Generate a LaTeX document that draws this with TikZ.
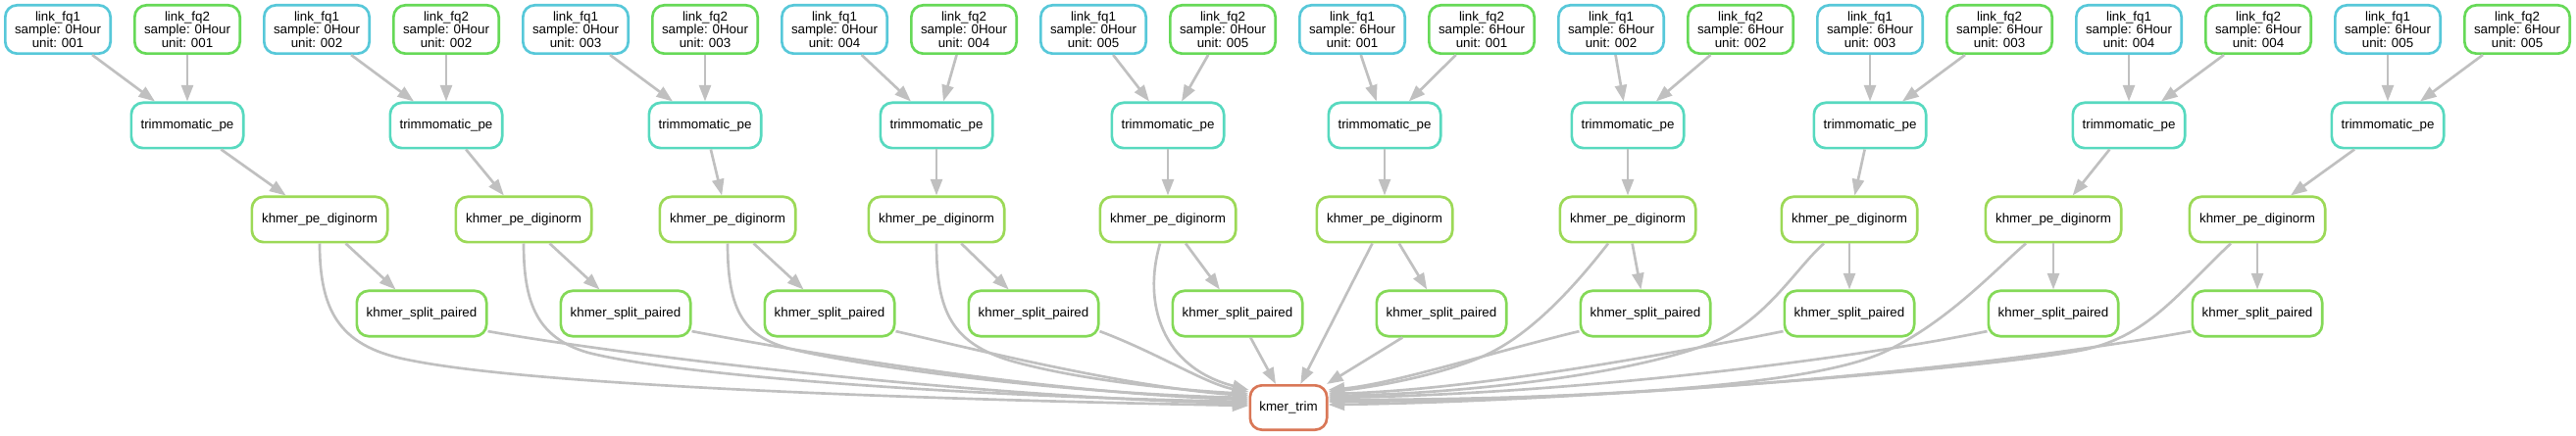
\documentclass[tikz,border=0pt]{standalone}
\usepackage{fontspec}
\setmainfont{Liberation Sans}
\usepackage{tikz}
\usetikzlibrary{arrows.meta}

\definecolor{fqone}{HTML}{57C8D9}
\definecolor{fqtwo}{HTML}{66D957}
\definecolor{trimcol}{HTML}{57D9BF}
\definecolor{digicol}{HTML}{9CD957}
\definecolor{splitcol}{HTML}{84D957}
\definecolor{kmercol}{HTML}{D97757}
\definecolor{edgegrey}{HTML}{C0C0C0}

\tikzset{
  jobbox/.style={draw, line width=2pt, rounded corners=9pt, fill=white, inner sep=0pt,
    align=center, font=\fontsize{10}{10.2}\selectfont},
  linkone/.style={jobbox, draw=fqone, minimum width=80.5pt, minimum height=37pt},
  linktwo/.style={jobbox, draw=fqtwo, minimum width=80.5pt, minimum height=37pt},
  trimbox/.style={jobbox, draw=trimcol, minimum width=85.75pt, minimum height=34.75pt},
  digibox/.style={jobbox, draw=digicol, minimum width=103.75pt, minimum height=34.75pt},
  splitbox/.style={jobbox, draw=splitcol, minimum width=99.25pt, minimum height=34.75pt},
  kmerbox/.style={jobbox, draw=kmercol, minimum width=58.75pt, minimum height=34pt},
  dep/.style={draw=edgegrey, line width=2pt, -{Triangle[length=12.5pt,width=9pt]}}
}

\begin{document}
\begin{tikzpicture}[x=0.75pt, y=0.75pt]
\useasboundingbox (0,0) rectangle (2627,-445);

\foreach \i/\h/\u in {1/0/001,2/0/002,3/0/003,4/0/004,5/0/005,6/6/001,7/6/002,8/6/003,9/6/004,10/6/005}{
  \node[linkone] (a\i) at ({264*\i-205},-30) {link\_fq1\\sample: \h Hour\\unit: \u};
  \node[linktwo] (b\i) at ({264*\i-73},-30) {link\_fq2\\sample: \h Hour\\unit: \u};
}

\foreach \i/\tx/\dx/\sx in {1/191/326/430,2/455/534/638,3/719/742/846,4/955/955/1054,5/1191/1191/1262,
    6/1412/1412/1470,7/1660/1660/1678,8/1907/1886/1886,9/2171/2094/2094,10/2435/2302/2302}{
  \node[trimbox] (t\i) at (\tx,-128) {trimmomatic\_pe};
  \node[digibox] (d\i) at (\dx,-224) {khmer\_pe\_diginorm};
  \node[splitbox] (s\i) at (\sx,-320) {khmer\_split\_paired};
  \draw[dep] (a\i) -- (t\i);
  \draw[dep] (b\i) -- (t\i);
  \draw[dep] (t\i) -- (d\i);
  \draw[dep] (d\i) -- (s\i);
}

\node[kmerbox] (km) at (1314,-416) {kmer\_trim};

\draw[dep] (d1.south) .. controls (326,-320) and (348,-355) .. (420,-368)
  .. controls (540,-392) and (900,-407) .. ([yshift=1.5pt]km.west);
\draw[dep] (s1.-15) .. controls (650,-365) and (1000,-405) .. ([yshift=3pt]km.west);
\draw[dep] (d2.south) .. controls (534,-310) and (548,-345) .. (600,-360)
  .. controls (700,-385) and (1000,-405) .. ([yshift=4.5pt]km.west);
\draw[dep] (s2.-15) .. controls (800,-356) and (1050,-400) .. ([yshift=6pt]km.west);
\draw[dep] (d3.south) .. controls (742,-320) and (760,-345) .. (810,-357)
  .. controls (900,-378) and (1100,-402) .. ([yshift=7.5pt]km.west);
\draw[dep] (s3.-15) .. controls (1000,-358) and (1150,-395) .. ([yshift=9pt]km.west);
\draw[dep] (d4.south) .. controls (955,-320) and (972,-350) .. (1030,-368)
  .. controls (1100,-388) and (1200,-398) .. ([yshift=10.5pt]km.west);
\draw[dep] (s4.-15) .. controls (1180,-360) and (1230,-392) .. ([yshift=12pt]km.west);
\draw[dep] ([xshift=-6pt]d5.south) .. controls (1165,-310) and (1185,-375) .. ([yshift=13.5pt]km.west);

\draw[dep] (s5) -- (km);
\draw[dep] (d6) -- (km);
\draw[dep] (s6) -- (km);

\draw[dep] (s7.-165) .. controls (1520,-360) and (1420,-392) .. ([yshift=13.5pt]km.east);
\draw[dep] ([xshift=-15pt]d7.south) .. controls (1600,-300) and (1560,-340) .. (1520,-360)
  .. controls (1480,-380) and (1410,-394) .. ([yshift=12pt]km.east);
\draw[dep] (s8.-165) .. controls (1700,-362) and (1500,-398) .. ([yshift=10.5pt]km.east);
\draw[dep] ([xshift=-19.5pt]d8.south) .. controls (1830,-275) and (1800,-330) .. (1740,-352)
  .. controls (1650,-385) and (1480,-402) .. ([yshift=9pt]km.east);
\draw[dep] (s9.-165) .. controls (1880,-368) and (1600,-402) .. ([yshift=7.5pt]km.east);
\draw[dep] ([xshift=-21pt]d9.south) .. controls (2035,-275) and (1985,-330) .. (1920,-360)
  .. controls (1830,-400) and (1550,-408) .. ([yshift=6pt]km.east);
\draw[dep] (s10.-165) .. controls (2050,-372) and (1700,-408) .. ([yshift=4.5pt]km.east);
\draw[dep] ([xshift=-20.25pt]d10.south) .. controls (2220,-300) and (2190,-345) .. (2120,-358)
  .. controls (2020,-377) and (1600,-410) .. ([yshift=2.25pt]km.east);
\end{tikzpicture}
\end{document}
